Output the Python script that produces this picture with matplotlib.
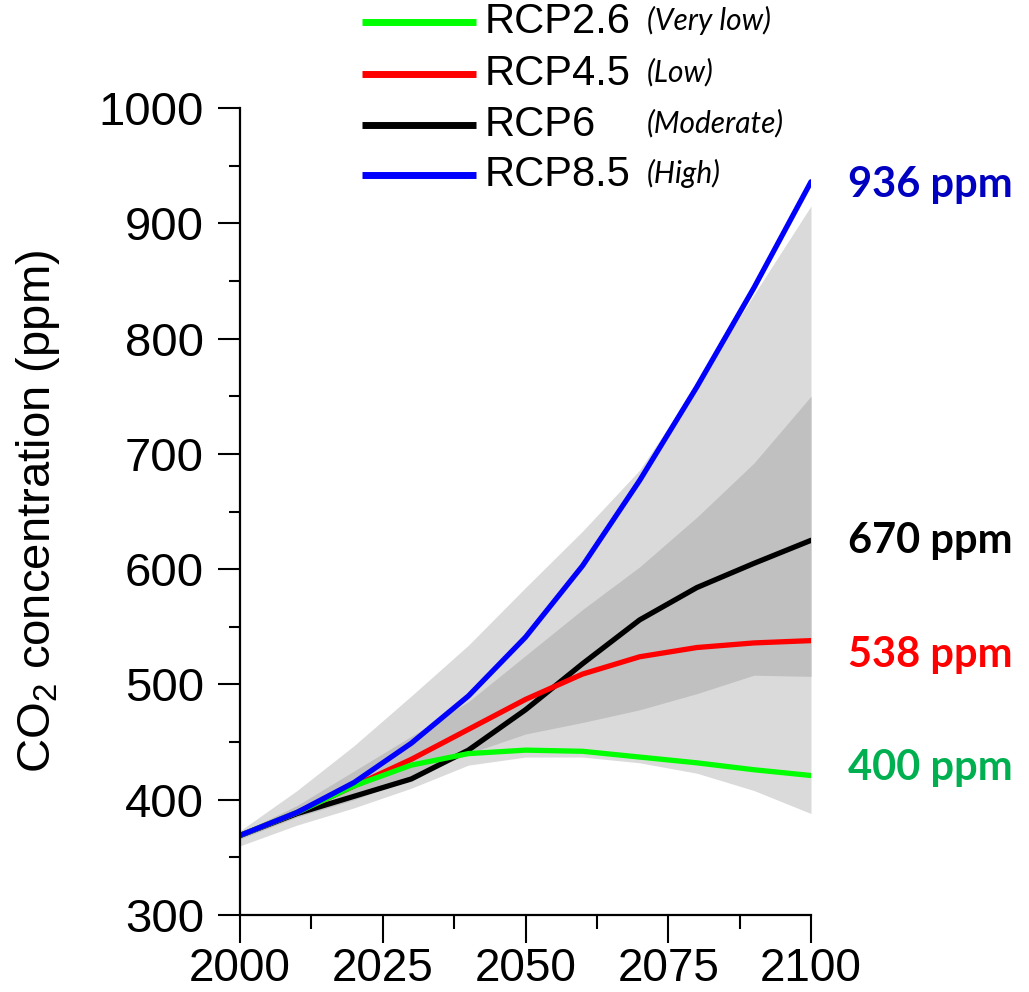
import numpy as np
import matplotlib
matplotlib.use("Agg")
import matplotlib.pyplot as plt

plt.rcParams['mathtext.fontset'] = 'custom'
plt.rcParams['mathtext.rm'] = 'Liberation Sans'

years = [2000, 2010, 2020, 2030, 2040, 2050, 2060, 2070, 2080, 2090, 2100]

# scenario pathways (ppm)
rcp26 = [369, 389, 412, 430, 440, 443, 442, 437, 432, 426, 421]
rcp45 = [369, 389, 412, 435, 461, 487, 509, 524, 532, 536, 538]
rcp6 = [369, 388, 403, 418, 443, 478, 518, 556, 584, 605, 625]
rcp85 = [369, 389, 415, 449, 490, 541, 603, 677, 758, 844, 936]

# uncertainty ranges
outer_lo = [360, 378, 393, 410, 430, 437, 437, 432, 423, 408, 388]
outer_hi = [373, 408, 447, 490, 534, 584, 633, 686, 760, 838, 915]
inner_lo = [366, 385, 400, 418, 440, 457, 467, 478, 492, 508, 507]
inner_hi = [371, 395, 425, 455, 485, 525, 565, 602, 645, 692, 750]

names = ["RCP2.6", "RCP4.5", "RCP6", "RCP8.5"]
levels = ["(Very low)", "(Low)", "(Moderate)", "(High)"]
line_colors = ["#00ff00", "#ff0000", "#000000", "#0000ff"]

end_labels = ["936 ppm", "670 ppm", "538 ppm", "400 ppm"]
end_colors = ["#0000c0", "#000000", "#ff0000", "#00b050"]

W, H = 1029, 992
fig = plt.figure(figsize=(W/100, H/100), dpi=100)
ax = fig.add_axes([240/W, 1-915/H, (811-240)/W, (915-108)/H])

ax.fill_between(years, outer_lo, outer_hi, color="#dadada", lw=0)
ax.fill_between(years, inner_lo, inner_hi, color="#c0c0c0", lw=0)

lw = 3.8
ax.plot(years, rcp6, color=line_colors[2], lw=lw, solid_capstyle='round')
ax.plot(years, rcp45, color=line_colors[1], lw=lw, solid_capstyle='round')
ax.plot(years, rcp26, color=line_colors[0], lw=lw, solid_capstyle='round')
ax.plot(years, rcp85, color=line_colors[3], lw=lw, solid_capstyle='round')

ax.set_xlim(2000, 2100)
ax.set_ylim(300, 1000)
ax.set_xticks([2000, 2025, 2050, 2075, 2100])
ax.set_xticks(np.arange(2000, 2101, 12.5), minor=True)
ax.set_yticks(np.arange(300, 1001, 100))
ax.set_yticks(np.arange(350, 1000, 100), minor=True)

for s in ["top", "right"]:
    ax.spines[s].set_visible(False)
for s in ["left", "bottom"]:
    ax.spines[s].set_linewidth(1.6)

ax.tick_params(axis='y', which='major', length=16, width=1.5, pad=10)
ax.tick_params(axis='y', which='minor', length=8, width=1.5)
ax.tick_params(axis='x', which='major', length=20, width=1.5, pad=3)
ax.tick_params(axis='x', which='minor', length=10, width=1.5)
for lab in ax.get_yticklabels():
    lab.set_fontfamily("Liberation Sans")
    lab.set_fontsize(34)
for lab in ax.get_xticklabels():
    lab.set_fontfamily("Liberation Sans")
    lab.set_fontsize(33)

ax.set_ylabel("CO$_2$ concentration (ppm)", fontsize=34,
              fontfamily="Liberation Sans", labelpad=14)
ax.yaxis.set_label_coords(-178/571, 0.5)

# legend drawn by hand at the top
leg_y = [22, 74, 125, 175]
for i in range(4):
    yf = 1 - leg_y[i]/H
    fig.add_artist(plt.Line2D([362/W, 476/W], [yf, yf], color=line_colors[i],
                              lw=5, solid_capstyle='butt'))
    fig.text(485/W, yf, names[i], fontsize=30, fontfamily="Liberation Sans",
             va='center', ha='left')
    fig.text(647/W, yf + 2/H, levels[i], fontsize=21.5, fontfamily="Lato",
             style='italic', va='center', ha='left')

end_y = [185, 541, 655, 768]
for i in range(4):
    fig.text(848/W, 1 - end_y[i]/H, end_labels[i], fontsize=30, fontfamily="Lato",
             fontweight='bold', color=end_colors[i], va='center', ha='left')

fig.savefig("out.png", dpi=100)
